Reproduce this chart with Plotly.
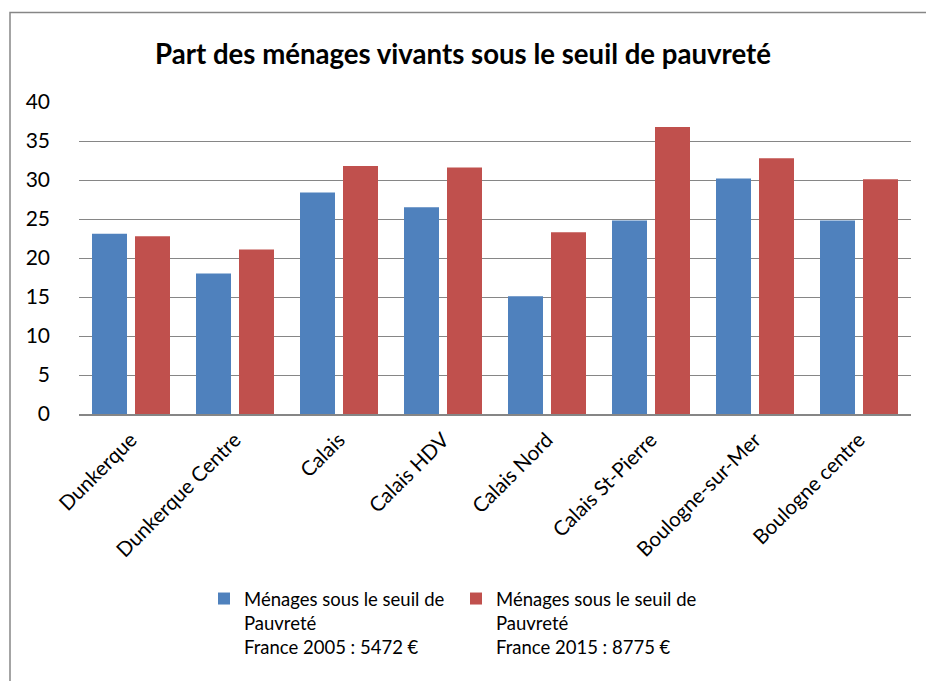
import plotly.graph_objects as go

# Share of households below the poverty line, by area
categories = [
    "Dunkerque", "Dunkerque Centre", "Calais", "Calais HDV",
    "Calais Nord", "Calais St-Pierre", "Boulogne-sur-Mer", "Boulogne centre",
]
menages_2005 = [23.1, 18.0, 28.4, 26.5, 15.1, 24.8, 30.2, 24.8]
menages_2015 = [22.8, 21.1, 31.8, 31.6, 23.3, 36.8, 32.8, 30.1]

name_2005 = "Ménages sous le seuil de<br>Pauvreté<br>France 2005 : 5472 €"
name_2015 = "Ménages sous le seuil de<br>Pauvreté<br>France 2015 : 8775 €"

W, H = 926, 681
ML, MR, MT, MB = 79, 15, 102, 267
PW, PH = W - ML - MR, H - MT - MB

FONT = "Lato, 'Liberation Sans', sans-serif"
GRID = "#868686"


def px_x(p):
    return (p - ML) / PW


def px_y(p):
    return (H - MB - p) / PH


fig = go.Figure()
fig.add_trace(go.Bar(x=categories, y=menages_2005, name=name_2005,
                     marker=dict(color="#4F81BD", line=dict(width=0))))
fig.add_trace(go.Bar(x=categories, y=menages_2015, name=name_2015,
                     marker=dict(color="#C0504D", line=dict(width=0))))

fig.update_layout(
    width=W, height=H,
    margin=dict(l=ML, r=MR, t=MT, b=MB),
    paper_bgcolor="white", plot_bgcolor="white",
    font=dict(family=FONT, color="black"),
    barmode="group", bargap=0.173, bargroupgap=0.186,
    title=dict(text="<b>Part des ménages vivants sous le seuil de pauvreté</b>",
               x=0.5, xanchor="center", y=1 - 54 / H, yanchor="middle",
               font=dict(size=27.6, family=FONT, color="black")),
    xaxis=dict(showline=True, linecolor=GRID, linewidth=1.5, tickangle=-45,
               tickfont=dict(size=20.5), ticks="", showgrid=False,
               ticklabelstandoff=4),
    yaxis=dict(range=[0, 40], dtick=5, showgrid=True, gridcolor=GRID,
               gridwidth=1.3, zeroline=False, tickfont=dict(size=21),
               ticks="", ticklabelstandoff=28),
    legend=dict(orientation="h", x=px_x(204), xanchor="left",
                y=px_y(580), yanchor="top", font=dict(size=18.5),
                valign="top", entrywidth=207, entrywidthmode="pixels",
                bgcolor="rgba(0,0,0,0)", traceorder="normal"),
    shapes=[dict(type="rect", xref="paper", yref="paper",
                 x0=px_x(10), x1=px_x(W + 20), y0=px_y(12.5), y1=px_y(H + 20),
                 line=dict(color=GRID, width=1.5), fillcolor="rgba(0,0,0,0)")],
)

fig.write_html("out.html")
